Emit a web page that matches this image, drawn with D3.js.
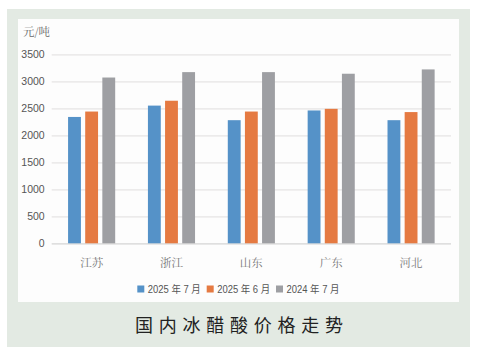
<!DOCTYPE html>
<html><head><meta charset="utf-8">
<script src="https://cdn.jsdelivr.net/npm/d3@7"></script>
<style>
html,body{margin:0;padding:0;background:#fff;}
svg{display:block;}
</style></head>
<body>
<svg id="c" width="479" height="359"></svg>
<script>
const categories = ["江苏","浙江","山东","广东","河北"];
const seriesNames = ["2025 年 7 月","2025 年 6 月","2024 年 7 月"];
const jul2025 = [2340, 2550, 2280, 2460, 2280];
const jun2025 = [2440, 2640, 2440, 2490, 2430];
const jul2024 = [3070, 3170, 3170, 3140, 3220];
const yTicks = [0,500,1000,1500,2000,2500,3000,3500];
const unitLabel = "元/吨";
const title = "国内冰醋酸价格走势";
const colors = ["#5592c8","#e57a42","#9e9fa3"];

const seriesVals = [jul2025, jun2025, jul2024];
const svg = d3.select("#c");
const serif = "'Noto Serif CJK SC','DejaVu Serif','Liberation Serif',serif";
const sans = "'Liberation Sans','Noto Sans CJK SC',sans-serif";

svg.append("rect").attr("x",7).attr("y",9).attr("width",463).attr("height",338).attr("fill","#e3eae3");
svg.append("rect").attr("x",18).attr("y",19).attr("width",441).attr("height",283).attr("fill","#fdfdfd");

const y = d3.scaleLinear().domain([0,3500]).range([243.3,54.3]);
const x0 = d3.scaleBand().domain(categories).range([51.7,451]).paddingInner(0.41).paddingOuter(0.205);
const x1 = d3.scaleBand().domain(d3.range(3)).range([0,x0.bandwidth()]).paddingInner(0.25);

// gridlines
const yAxis = d3.axisLeft(y).tickValues(yTicks).tickSize(-(451-51.7)).tickPadding(7).tickFormat(d3.format("d"));
const ga = svg.append("g").attr("transform","translate(51.7,0)").call(yAxis);
ga.select(".domain").remove();
ga.selectAll(".tick line").attr("stroke",d=>d===0?"#d4d4d4":"#e6e4e4").attr("stroke-width",1.3);
ga.selectAll(".tick text").attr("fill","#555").attr("font-size","10.5px").attr("font-family",sans);

// bars
const g = svg.append("g");
categories.forEach((c,i)=>{
  seriesVals.forEach((vals,s)=>{
    g.append("rect")
      .attr("x",x0(c)+x1(s))
      .attr("y",y(vals[i]))
      .attr("width",x1.bandwidth())
      .attr("height",y(0)-y(vals[i]))
      .attr("fill",colors[s]);
  });
});

// category labels
const xAxis = d3.axisBottom(x0).tickSize(0).tickPadding(10);
const gx = svg.append("g").attr("transform","translate(0,249)").call(xAxis);
gx.select(".domain").remove();
gx.selectAll("text").attr("fill","#777").attr("font-size","11.5px").attr("font-family",serif);

// unit label
svg.append("text").attr("x",23).attr("y",36).attr("fill","#666").attr("font-size","11.5px").attr("font-family",serif).text(unitLabel);

// legend
const legX = [137.3,206.7,276];
seriesNames.forEach((n,s)=>{
  svg.append("rect").attr("x",legX[s]).attr("y",285.5).attr("width",7).attr("height",7).attr("fill",colors[s]);
  svg.append("text").attr("x",legX[s]+10.5).attr("y",293).attr("fill","#555").attr("font-size","10px").attr("font-family",sans)
    .attr("textLength",53).attr("lengthAdjust","spacingAndGlyphs").text(n);
});

// title
svg.append("text").attr("x",135).attr("y",332)
  .attr("fill","#222").attr("font-size","18px")
  .attr("textLength",208).attr("lengthAdjust","spacing")
  .attr("font-family","'Noto Sans CJK SC',sans-serif").text(title);
</script>
</body></html>
